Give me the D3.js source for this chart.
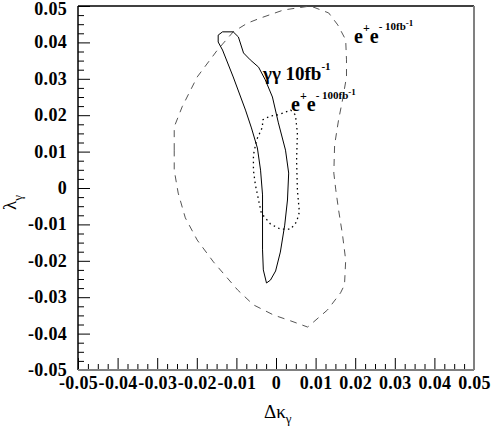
<!DOCTYPE html>
<html>
<head>
<meta charset="utf-8">
<script src="https://cdn.jsdelivr.net/npm/d3@7"></script>
<style>
  body { margin: 0; background: #fff; }
  svg { display: block; }
</style>
</head>
<body>
<svg id="chart" width="491" height="437"></svg>
<script>
// axis ticks
const xTicks = [-0.05, -0.04, -0.03, -0.02, -0.01, 0, 0.01, 0.02, 0.03, 0.04, 0.05];
const yTicks = [-0.05, -0.04, -0.03, -0.02, -0.01, 0, 0.01, 0.02, 0.03, 0.04, 0.05];

// e+e- 10 fb-1 contour (dashed), [dk, lambda]
const ee10 = [
  [-0.0257, 0.0104], [-0.0257, 0.0168], [-0.0237, 0.0223], [-0.0199, 0.0305],
  [-0.0148, 0.0379], [-0.0108, 0.0429], [-0.0072, 0.0453], [-0.0039, 0.0467],
  [0.0019, 0.0489], [0.0087, 0.0500], [0.0133, 0.0481], [0.0156, 0.0448],
  [0.0176, 0.0407], [0.0178, 0.0352], [0.0178, 0.0305], [0.0168, 0.0242],
  [0.0158, 0.0187], [0.0148, 0.0118], [0.0146, 0.0041], [0.0151, -0.0005],
  [0.0158, -0.0060], [0.0168, -0.0129], [0.0176, -0.0198], [0.0173, -0.0266],
  [0.0163, -0.0288], [0.0130, -0.0335], [0.0080, -0.0382], [0.0037, -0.0365],
  [-0.0006, -0.0349], [-0.0057, -0.0321], [-0.0097, -0.0280], [-0.0158, -0.0203],
  [-0.0199, -0.0143], [-0.0229, -0.0082], [-0.0247, -0.0014], [-0.0257, 0.0049]
];

// gamma gamma 10 fb-1 contour (solid)
const gg10 = [
  [-0.0146, 0.0420], [-0.0135, 0.0429], [-0.0108, 0.0429], [-0.0095, 0.0415],
  [-0.0082, 0.0371], [-0.0065, 0.0352], [-0.0044, 0.0332], [-0.0027, 0.0297],
  [-0.0009, 0.0250], [0.0006, 0.0179], [0.0024, 0.0104], [0.0032, 0.0041],
  [0.0029, -0.0033], [0.0022, -0.0102], [0.0011, -0.0176], [-0.0001, -0.0228],
  [-0.0014, -0.0253], [-0.0024, -0.0261], [-0.0032, -0.0225], [-0.0034, -0.0170],
  [-0.0034, -0.0088], [-0.0034, -0.0019], [-0.0039, 0.0049], [-0.0047, 0.0110],
  [-0.0062, 0.0165], [-0.0077, 0.0214], [-0.0108, 0.0305], [-0.0135, 0.0379],
  [-0.0146, 0.0401]
];

// e+e- 100 fb-1 contour (dotted)
const ee100 = [
  [-0.0034, 0.0187], [-0.0014, 0.0198], [0.0006, 0.0201], [0.0037, 0.0214],
  [0.0049, 0.0201], [0.0054, 0.0151], [0.0052, 0.0077], [0.0054, -0.0005],
  [0.0059, -0.0066], [0.0052, -0.0093], [0.0037, -0.0113], [0.0011, -0.0113],
  [-0.0014, -0.0099], [-0.0037, -0.0069], [-0.0044, -0.0033], [-0.0052, 0.0008],
  [-0.0057, 0.0049], [-0.0057, 0.0091], [-0.0049, 0.0132], [-0.0034, 0.0168]
];

const margin = { top: 6, right: 17, bottom: 67, left: 78 };
const W = 491, H = 437;
const w = W - margin.left - margin.right;
const h = H - margin.top - margin.bottom;

const svg = d3.select("#chart");
const g = svg.append("g").attr("transform", "translate(" + margin.left + "," + margin.top + ")");

const x = d3.scaleLinear().domain([-0.05, 0.05]).range([0, w]);
const y = d3.scaleLinear().domain([-0.05, 0.05]).range([h, 0]);

const fmt = d => (d === 0 ? "0" : d.toFixed(2));
const serif = "'Liberation Serif', 'Times New Roman', serif";

// minor ticks: 4 divisions between majors
const minor = d3.range(-0.05, 0.0501, 0.0025).filter((d, i) => i % 4 != 0);

function styleAxis(sel) {
  sel.attr("font-family", serif);
  sel.select(".domain").remove();
  sel.selectAll("line").attr("stroke", "#000").attr("stroke-width", 1);
  sel.selectAll("text")
    .attr("font-family", serif)
    .attr("font-weight", "bold")
    .attr("font-size", "18px")
    .attr("letter-spacing", "0.3px")
    .attr("fill", "#000");
}

g.append("g")
  .attr("transform", "translate(0," + h + ")")
  .call(d3.axisBottom(x).tickValues(xTicks).tickFormat(fmt).tickSize(-12).tickPadding(6))
  .call(styleAxis);
g.append("g")
  .attr("transform", "translate(0," + h + ")")
  .call(d3.axisBottom(x).tickValues(minor).tickFormat("").tickSize(-6))
  .call(styleAxis);

g.append("g")
  .call(d3.axisLeft(y).tickValues(yTicks).tickFormat(fmt).tickSize(-12).tickPadding(11))
  .call(styleAxis)
  .selectAll("text").attr("dy", d => (d === 0.05 ? "0.45em" : "0.3em"));
g.append("g")
  .call(d3.axisLeft(y).tickValues(minor).tickFormat("").tickSize(-6))
  .call(styleAxis);

// frame
g.append("line").attr("x1", 0).attr("x2", w).attr("y1", 0).attr("y2", 0)
  .attr("stroke", "#000").attr("stroke-width", 1.5);
g.append("line").attr("x1", 0).attr("x2", 0).attr("y1", 0).attr("y2", h)
  .attr("stroke", "#000").attr("stroke-width", 1.5);
g.append("line").attr("x1", w).attr("x2", w).attr("y1", 0).attr("y2", h)
  .attr("stroke", "#808080").attr("stroke-width", 2);
g.append("line").attr("x1", 0).attr("x2", w).attr("y1", h).attr("y2", h)
  .attr("stroke", "#808080").attr("stroke-width", 2);

// contours
const line = d3.line().x(d => x(d[0])).y(d => y(d[1])).curve(d3.curveLinearClosed);

g.append("path").datum(ee10).attr("d", line)
  .attr("fill", "none").attr("stroke", "#555").attr("stroke-width", 1)
  .attr("stroke-dasharray", "7,6");
g.append("path").datum(gg10).attr("d", line)
  .attr("fill", "none").attr("stroke", "#000").attr("stroke-width", 1);
g.append("path").datum(ee100).attr("d", line)
  .attr("fill", "none").attr("stroke", "#000").attr("stroke-width", 1.3)
  .attr("stroke-dasharray", "1.5,3.5");

// text with sub/superscripts, pieces: [text, size, raise]
function richText(px, py, pieces, weight) {
  const t = svg.append("text")
    .attr("x", px).attr("y", py)
    .attr("font-family", serif)
    .attr("font-weight", weight)
    .attr("fill", "#000");
  let prev = 0;
  pieces.forEach(p => {
    t.append("tspan")
      .attr("font-size", p[1] + "px")
      .attr("dy", prev - p[2])
      .text(p[0]);
    prev = p[2];
  });
  return t;
}

richText(263, 80, [["γγ 10fb", 19, 0], ["-1", 11, 10]], "bold");
richText(291, 111, [["e", 20, 0], ["+", 12, 11], ["e", 20, 0], ["- 100fb", 11, 12], ["-1", 9, 16]], "bold");
richText(354, 43, [["e", 20, 0], ["+", 12, 11], ["e", 20, 0], ["- 10fb", 11, 13], ["-1", 9, 17]], "bold");

// axis titles
richText(264, 418, [["Δκ", 19, 0], ["γ", 13, -5]], "normal");
richText(0, 0, [["λ", 19, 0], ["γ", 13, -6]], "normal")
  .attr("transform", "translate(16,210) rotate(-90)");
</script>
</body>
</html>
